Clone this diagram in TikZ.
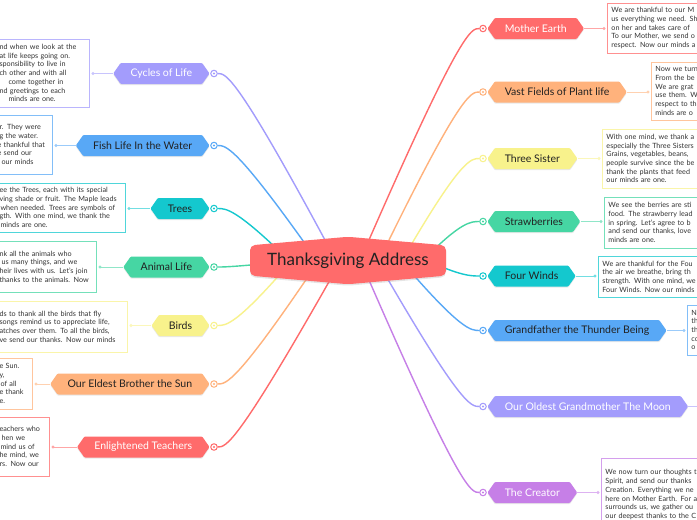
\documentclass[tikz,border=0pt]{standalone}
\usepackage{fontspec}
\setmainfont{Lato}
\usepackage{xcolor}
\usetikzlibrary{positioning, arrows.meta, shapes.symbols, shadows, calc}
\definecolor{mapred}{HTML}{FF6B6B}
\definecolor{maporange}{HTML}{FFB27C}
\definecolor{mapyellow}{HTML}{F8F28C}
\definecolor{mapgreen}{HTML}{46D6A3}
\definecolor{mapteal}{HTML}{14C8CE}
\definecolor{mapblue}{HTML}{58A8F6}
\definecolor{mappurple}{HTML}{A39CFC}
\definecolor{maporchid}{HTML}{C67FE7}
\definecolor{inktext}{HTML}{222222}
\definecolor{notetext}{HTML}{333333}
\pgfdeclarelayer{links}
\pgfsetlayers{links,main}

\begin{document}
\begin{tikzpicture}[x=1pt, y=-1pt,
  hub/.style={signal, signal to=north and south, signal pointer angle=170, fill=mapred, rounded corners=5pt, minimum width=196pt, minimum height=45pt, text=inktext, font=\fontsize{17}{20}\selectfont, drop shadow={shadow xshift=0pt, shadow yshift=-1.5pt, opacity=0.2}},
  topic/.style={signal, signal to=east and west, signal pointer angle=110, fill=#1, rounded corners=1pt, minimum height=21pt, inner xsep=10pt, inner ysep=0pt, text=inktext, font=\fontsize{10.5}{12}\selectfont, drop shadow={shadow xshift=0pt, shadow yshift=-1.2pt, opacity=0.18}},
  knob/.style={circle, draw=#1, line width=1pt, fill=white, inner sep=0pt, minimum size=6.5pt, path picture={\fill[#1] (path picture bounding box.center) circle (1.1pt);}},
  note/.style={draw=#1!75, fill=white, line width=0.9pt, inner xsep=4pt, inner ysep=2pt, align=left, text=notetext, font=\fontsize{7.2}{8.7}\selectfont},
  link/.style={draw=#1, line width=1.4pt},
  leaf/.style={draw=#1!60, line width=1pt, -{Circle[length=3pt]}, shorten >=1.5pt}
]
  \useasboundingbox (0,0) rectangle (697,520);
  \begin{pgfonlayer}{links}
    \fill[white] (0,0) rectangle (697,520);
  \end{pgfonlayer}
  \clip (0,0) rectangle (697,520);

  \node[hub] (ctr) at (348,260.5) {Thanksgiving Address};

  % left side
  \node[knob=mappurple] (k1) at (214,73.5) {};
  \node[topic=mappurple, text=white, left=0.5pt of k1] (t1) {Cycles of Life};
  \node[note=mappurple, anchor=east, text width=88pt, minimum height=68pt] (n1) at (90,73) {\hspace*{2pt}nd when we look at the\\\hspace*{2pt}at life keeps going on.\\\hspace*{2pt}sponsibility to live in\\\hspace*{2pt}ch other and with all\\\hspace*{11pt}come together in\\\hspace*{2pt}nd greetings to each\\\hspace*{11pt}minds are one.};

  \node[knob=mapblue] (k2) at (214,145.5) {};
  \node[topic=mapblue, left=0.5pt of k2] (t2) {Fish Life In the Water};
  \node[note=mapblue, anchor=east, text width=51pt, minimum height=59pt] (n2) at (53,144.5) {\hspace*{2pt}r. They were\\\hspace*{2pt}g the water.\\e thankful that\\e send our\\\hspace*{4pt}our minds};

  \node[knob=mapteal] (k3) at (214,208.5) {};
  \node[topic=mapteal, left=0.5pt of k3] (t3) {Trees};
  \node[note=mapteal, anchor=east, text width=124pt, minimum height=49pt] (n3) at (126,207.5) {\hspace*{2pt}ee the Trees, each with its special\\\hspace*{2pt}ving shade or fruit. The Maple leads\\\hspace*{3pt}when needed. Trees are symbols of\\\hspace*{2pt}gth. With one mind, we thank the\\\hspace*{3pt}minds are one.};

  \node[knob=mapgreen] (k4) at (214,267) {};
  \node[topic=mapgreen, left=0.5pt of k4] (t4) {Animal Life};
  \node[note=mapgreen, anchor=east, text width=95pt, minimum height=51pt] (n4) at (97,266.5) {\hspace*{2pt}nk all the animals who\\\hspace*{4pt}us many things, and we\\\hspace*{2pt}heir lives with us. Let’s join\\\hspace*{2pt}thanks to the animals. Now};

  \node[knob=mapyellow] (k5) at (214,325.5) {};
  \node[topic=mapyellow, left=0.5pt of k5] (t5) {Birds};
  \node[note=mapyellow, anchor=east, text width=126pt, minimum height=51pt] (n5) at (128,326.5) {\hspace*{2pt}ds to thank all the birds that fly\\\hspace*{2pt}songs remind us to appreciate life,\\\hspace*{2pt}atches over them. To all the birds,\\\hspace*{2pt}ve send our thanks. Now our minds};

  \node[knob=maporange] (k6) at (214,384) {};
  \node[topic=maporange, left=0.5pt of k6] (t6) {Our Eldest Brother the Sun};
  \node[note=maporange, anchor=east, text width=31pt, minimum height=51pt] (n6) at (33,383.5) {\hspace*{2pt}e Sun.\\\hspace*{2pt}y,\\\hspace*{3pt}of all\\\hspace*{2pt}e thank\\\hspace*{2pt}e.};

  \node[knob=mapred] (k7) at (214,447) {};
  \node[topic=mapred, text=white, left=0.5pt of k7] (t7) {Enlightened Teachers};
  \node[note=mapred, anchor=east, text width=48pt, minimum height=59pt] (n7) at (50,446.5) {\hspace*{2pt}eachers who\\\hspace*{4pt}hen we\\\hspace*{3pt}mind us of\\\hspace*{2pt}he mind, we\\\hspace*{2pt}rs. Now our};

  % right side
  \node[knob=mapred] (k8) at (483,28.5) {};
  \node[topic=mapred, text=white, right=0.5pt of k8] (t8) {Mother Earth};
  \node[note=mapred, anchor=west, text width=150pt, minimum height=50pt] (n8) at (607,28) {We are thankful to our M\\us everything we need. Sh\\on her and takes care of\\To our Mother, we send o\\respect. Now our minds a};

  \node[knob=maporange] (k9) at (483,92) {};
  \node[topic=maporange, right=0.5pt of k9] (t9) {Vast Fields of Plant life};
  \node[note=maporange, anchor=west, text width=150pt, minimum height=58pt] (n9) at (651,91) {Now we turn\\From the be\\We are grat\\use them. W\\respect to th\\minds are o};

  \node[knob=mapyellow] (k10) at (483,158.5) {};
  \node[topic=mapyellow, right=0.5pt of k10] (t10) {Three Sister};
  \node[note=mapyellow, anchor=west, text width=150pt, minimum height=59pt] (n10) at (602,158.5) {With one mind, we thank a\\especially the Three Sisters\\Grains, vegetables, beans,\\people survive since the be\\thank the plants that feed\\our minds are one.};

  \node[knob=mapgreen] (k11) at (483,221.5) {};
  \node[topic=mapgreen, right=0.5pt of k11] (t11) {Strawberries};
  \node[note=mapgreen, anchor=west, text width=150pt, minimum height=51pt] (n11) at (604,222.5) {We see the berries are sti\\food. The strawberry lead\\in spring. Let’s agree to b\\and send our thanks, love\\minds are one.};

  \node[knob=mapteal] (k12) at (483,276) {};
  \node[topic=mapteal, right=0.5pt of k12] (t12) {Four Winds};
  \node[note=mapteal, anchor=west, text width=150pt, minimum height=41pt] (n12) at (598,276.5) {We are thankful for the Fou\\the air we breathe, bring th\\strength. With one mind, we\\Four Winds. Now our minds};

  \node[knob=mapblue] (k13) at (483,330.5) {};
  \node[topic=mapblue, right=0.5pt of k13] (t13) {Grandfather the Thunder Being};
  \node[note=mapblue, anchor=west, text width=150pt, minimum height=50pt] (n13) at (687,330) {N\\th\\th\\co\\o};

  \node[knob=mappurple] (k14) at (483,406.5) {};
  \node[topic=mappurple, text=white, right=0.5pt of k14] (t14) {Our Oldest Grandmother The Moon};
  \coordinate (n14) at (730,406.5);

  \node[knob=maporchid] (k15) at (483,492.5) {};
  \node[topic=maporchid, text=white, right=0.5pt of k15] (t15) {The Creator};
  \node[note=maporchid, anchor=north west, text width=150pt, minimum height=80pt] (n15) at (601,458) {We now turn our thoughts t\\Spirit, and send our thanks\\Creation. Everything we ne\\here on Mother Earth. For a\\surrounds us, we gather ou\\our deepest thanks to the C\\are one.};

  % topic to note
  \draw[leaf=mappurple] (t1.west) -- (t1.west -| n1.east);
  \draw[leaf=mapblue] (t2.west) -- (t2.west -| n2.east);
  \draw[leaf=mapteal] (t3.west) -- (t3.west -| n3.east);
  \draw[leaf=mapgreen] (t4.west) -- (t4.west -| n4.east);
  \draw[leaf=mapyellow] (t5.west) -- (t5.west -| n5.east);
  \draw[leaf=maporange] (t6.west) -- (t6.west -| n6.east);
  \draw[leaf=mapred] (t7.west) -- (t7.west -| n7.east);
  \draw[leaf=mapred] (t8.east) -- (t8.east -| n8.west);
  \draw[leaf=maporange] (t9.east) -- (t9.east -| n9.west);
  \draw[leaf=mapyellow] (t10.east) -- (t10.east -| n10.west);
  \draw[leaf=mapgreen] (t11.east) -- (t11.east -| n11.west);
  \draw[leaf=mapteal] (t12.east) -- (t12.east -| n12.west);
  \draw[leaf=mapblue] (t13.east) -- (t13.east -| n13.west);
  \draw[draw=mappurple!60, line width=1pt] (t14.east) -- (n14);
  \draw[leaf=maporchid] (t15.east) -- (t15.east -| n15.west);

  % hub to topics
  \begin{pgfonlayer}{links}
    \draw[link=mappurple] ($(ctr.center)+(-12,0)$) .. controls ($(k1)+(22,0)$) and ($(k1)+(12,0)$) .. (k1);
    \draw[link=mapblue] ($(ctr.center)+(-31,0)$) .. controls ($(k2)+(22,0)$) and ($(k2)+(12,0)$) .. (k2);
    \draw[link=mapteal] ($(ctr.center)+(-59,0)$) .. controls ($(k3)+(22,0)$) and ($(k3)+(12,0)$) .. (k3);
    \draw[link=mapgreen] ($(ctr.center)+(0,-5)$) .. controls ($(k4)+(22,0)$) and ($(k4)+(12,0)$) .. (k4);
    \draw[link=mapyellow] ($(ctr.center)+(-56,0)$) .. controls ($(k5)+(22,0)$) and ($(k5)+(12,0)$) .. (k5);
    \draw[link=maporange] ($(ctr.center)+(-29,0)$) .. controls ($(k6)+(22,0)$) and ($(k6)+(12,0)$) .. (k6);
    \draw[link=mapred] ($(ctr.center)+(-7,0)$) .. controls ($(k7)+(22,0)$) and ($(k7)+(12,0)$) .. (k7);
    \draw[link=mapred] ($(ctr.center)+(12,0)$) .. controls ($(k8)+(-22,0)$) and ($(k8)+(-12,0)$) .. (k8);
    \draw[link=maporange] ($(ctr.center)+(31,0)$) .. controls ($(k9)+(-22,0)$) and ($(k9)+(-12,0)$) .. (k9);
    \draw[link=mapyellow] ($(ctr.center)+(54,0)$) .. controls ($(k10)+(-22,0)$) and ($(k10)+(-12,0)$) .. (k10);
    \draw[link=mapgreen] ($(ctr.center)+(75,0)$) .. controls ($(k11)+(-22,0)$) and ($(k11)+(-12,0)$) .. (k11);
    \draw[link=mapteal] ($(ctr.center)+(79,0)$) .. controls ($(k12)+(-22,0)$) and ($(k12)+(-12,0)$) .. (k12);
    \draw[link=mapblue] ($(ctr.center)+(53,0)$) .. controls ($(k13)+(-22,0)$) and ($(k13)+(-12,0)$) .. (k13);
    \draw[link=mappurple] ($(ctr.center)+(29,0)$) .. controls ($(k14)+(-22,0)$) and ($(k14)+(-12,0)$) .. (k14);
    \draw[link=maporchid] ($(ctr.center)+(12.5,0)$) .. controls ($(k15)+(-22,0)$) and ($(k15)+(-12,0)$) .. (k15);
  \end{pgfonlayer}
\end{tikzpicture}
\end{document}
